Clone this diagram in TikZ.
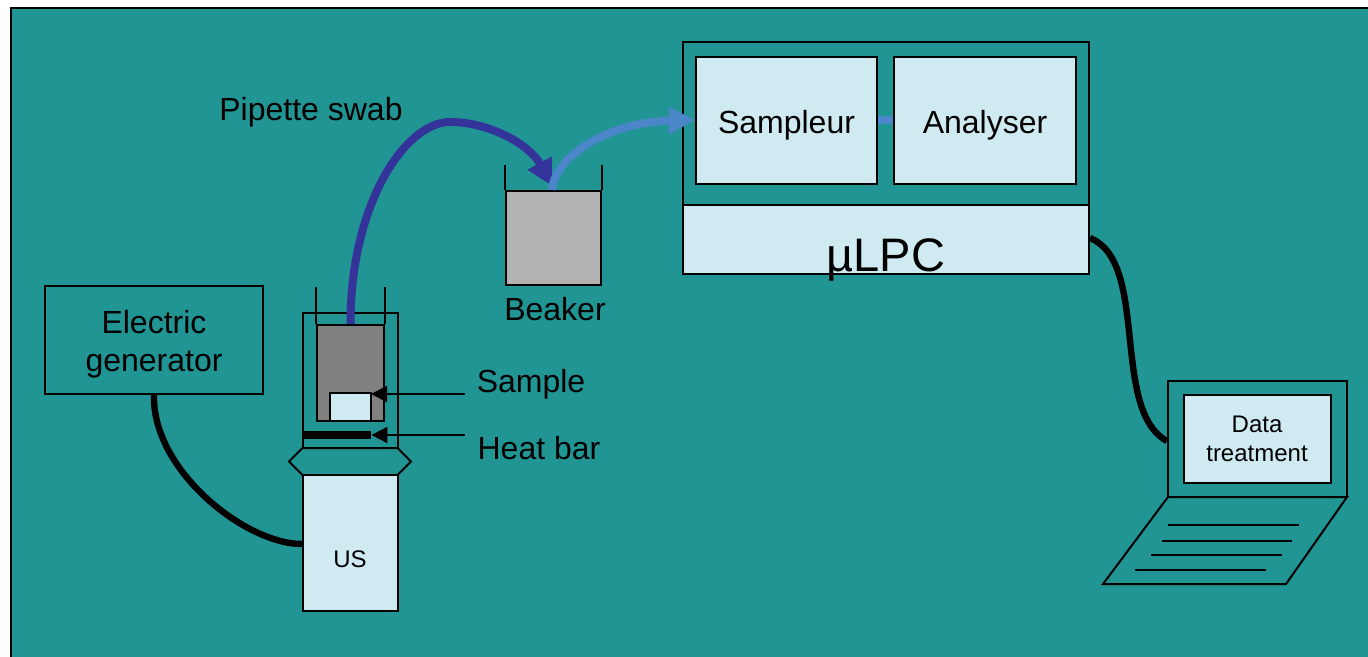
\documentclass[tikz,border=0pt]{standalone}
\usepackage{fontspec}
\setmainfont{Liberation Sans}
\usetikzlibrary{shapes,arrows.meta}
\definecolor{sea}{HTML}{219494}
\definecolor{pale}{HTML}{CFEAF0}
\definecolor{stone}{HTML}{808080}
\definecolor{glass}{HTML}{B2B2B2}
\definecolor{navy}{HTML}{333399}
\definecolor{sky}{HTML}{4A86C8}
\tikzstyle{box} = [draw, line width=1pt, rectangle, inner sep=0pt]
\tikzstyle{lab} = [inner sep=0pt, align=center, font=\fontsize{16}{19}\selectfont]
\tikzstyle{small} = [inner sep=0pt, align=center, font=\fontsize{12}{14.5}\selectfont]
\tikzstyle{cable} = [line width=3.2pt]
\tikzstyle{pipe} = [line width=4pt, -{Triangle[length=13pt,width=13pt]}]
\tikzstyle{line} = [line width=1pt, -{Triangle[length=8pt,width=8pt]}]
\begin{document}
\begin{tikzpicture}[x=.5pt,y=-.5pt]
\useasboundingbox (0,0) rectangle (1368,657);
\fill[sea] (11,8) rectangle (1368,657);
\draw[line width=1pt] (11,657) -- (11,8) -- (1368,8);
%
\node[box,minimum width=109pt,minimum height=54pt] (generator) at (154,340) {};
\node[lab] (generatorlabel) at (154,344) {Electric\\generator};
%
\node[box,minimum width=47.5pt,minimum height=67.5pt] (holder) at (350.5,380.5) {};
\node[box,fill=stone,minimum width=33.5pt,minimum height=48pt] (cell) at (350.5,373) {};
\node[box,fill=pale,minimum width=20.5pt,minimum height=14pt] (sample) at (350.5,407) {};
\node[fill=black,inner sep=0pt,minimum width=34pt,minimum height=4pt] (heatbar) at (337,435) {};
\draw[line width=1pt] (cell.north west) -- (cell.north west |- 0,287);
\draw[line width=1pt] (cell.north east) -- (cell.north east |- 0,287);
\node[draw,line width=1pt,inner sep=0pt,minimum width=61pt,minimum height=13.5pt,
  shape=signal,signal to=east and west,signal pointer angle=90] (horn) at (350,461.5) {};
\node[box,fill=pale,minimum width=47.5pt,minimum height=68pt] (us) at (350.5,543) {};
\node[small] (uslabel) at (350,559) {US};
%
\node[box,fill=glass,minimum width=47.5pt,minimum height=47pt] (beaker) at (553.5,238) {};
\draw[line width=1pt] (beaker.north west) -- (beaker.north west |- 0,165);
\draw[line width=1pt] (beaker.north east) -- (beaker.north east |- 0,165);
\node[lab] (beakerlabel) at (555,309) {Beaker};
\node[lab] (pipettelabel) at (311,112) {Pipette swab};
%
\node[box,minimum width=203pt,minimum height=116pt] (ulpc) at (886,158) {};
\node[box,fill=pale,minimum width=203pt,minimum height=34.5pt] (ulpcbase) at (886,239.5) {};
\node[inner sep=0pt,font=\fontsize{23.5}{28}\selectfont] (ulpclabel) at (886,260) {µLPC};
\node[box,fill=pale,minimum width=90.5pt,minimum height=63.5pt] (sampleur) at (786.5,120.5) {};
\node[box,fill=pale,minimum width=91pt,minimum height=63.5pt] (analyser) at (985,120.5) {};
\node[lab] (sampleurlabel) at (786.5,125) {Sampleur};
\node[lab] (analyserlabel) at (985,125) {Analyser};
%
\node[box,minimum width=89.5pt,minimum height=58pt] (screen) at (1257.5,439) {};
\node[box,fill=pale,minimum width=73.5pt,minimum height=44pt] (display) at (1257.5,439) {};
\node[small] (displaylabel) at (1257,439) {Data\\treatment};
\coordinate (kba) at (1168,497);
\coordinate (kbb) at (1347,497);
\coordinate (kbc) at (1286,584);
\coordinate (kbd) at (1103,584);
\draw[line width=1pt] (kba) -- (kbb) -- (kbc) -- (kbd) -- cycle;
\draw[line width=1.3pt] (1168,525) -- (1299,525);
\draw[line width=.8pt] (1162,541) -- (1292,541);
\draw[line width=1.3pt] (1151,555) -- (1282,555);
\draw[line width=.8pt] (1135,570) -- (1266,570);
%
\node[lab] (samplelabel) at (531,384) {Sample};
\node[lab] (heatlabel) at (539,448) {Heat bar};
\coordinate (sampleend) at (465,394);
\coordinate (heatend) at (465,435);
\coordinate (sampletip) at (371,394);
\draw[line] (sampleend) -- (sampletip);
\draw[line] (heatend) -- (heatbar.east);
%
\draw[cable] (generator.south) .. controls (152,470) and (245,544) .. (us.west |- 0,544);
\draw[cable] (ulpcbase.east |- 0,238) .. controls (1150,262) and (1110,410) .. (screen.west |- 0,441);
%
\draw[pipe,navy] (cell.north) .. controls (350,205) and (405,122) .. (450,122) .. controls (490,122) and (530,145) .. (552,186);
\draw[pipe,sky] (beaker.north) ++(-1.5,0) .. controls (555,155) and (610,122) .. (695,120);
\draw[sky,line width=4pt] (sampleur.east) -- (analyser.west);
\end{tikzpicture}
\end{document}
